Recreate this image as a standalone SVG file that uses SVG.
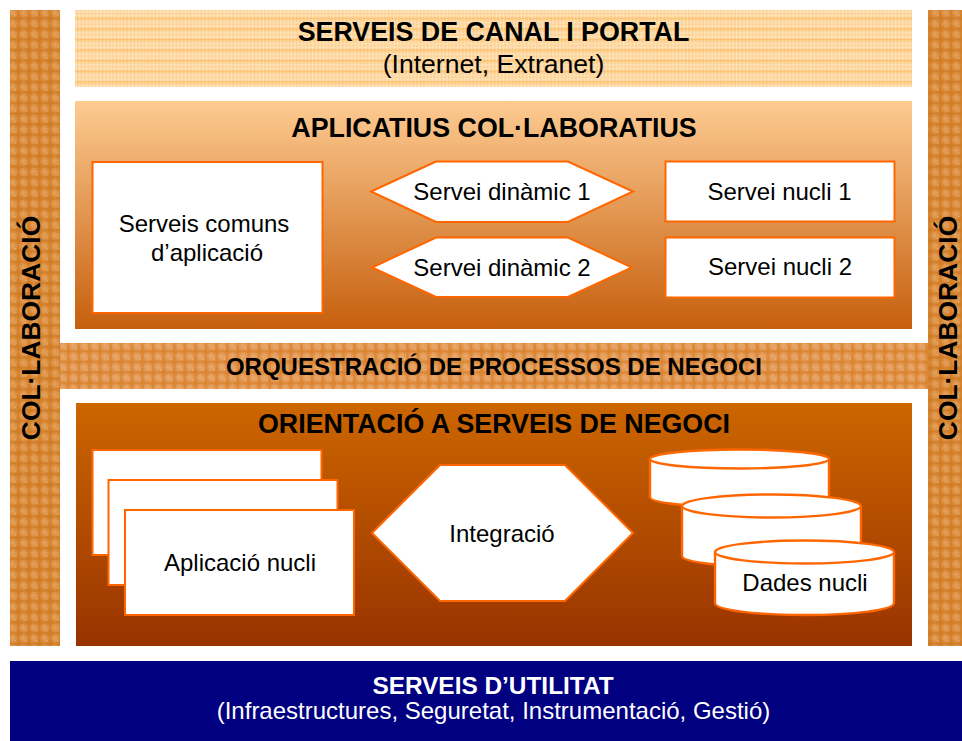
<svg xmlns="http://www.w3.org/2000/svg" width="962" height="741" viewBox="0 0 962 741">
<defs>
<pattern id="pL" width="10.600" height="10.600" patternUnits="userSpaceOnUse" x="75" y="10">
<rect width="10.600" height="10.600" fill="#fdd08f"/>
<path d="M1 0V10.600M4.500 0V10.600M8 0V10.600" stroke="#fff" stroke-width="1" opacity=".4"/>
<path d="M0 2H10.600M0 5.500H10.600" stroke="#fff" stroke-width="1" opacity=".4"/>
<path d="M0 8.500H10.600" stroke="#f8b04a" stroke-width="1" opacity=".75"/>
</pattern>
<pattern id="pD" width="10.600" height="10.600" patternUnits="userSpaceOnUse" x="10" y="10">
<rect width="10.600" height="10.600" fill="#d98836"/>
<rect x="1" width="3.500" height="10.600" fill="#e7aa6c" opacity=".4"/>
<rect y="1" width="10.600" height="3.500" fill="#e7aa6c" opacity=".35"/>
<rect x="7" width="2.500" height="10.600" fill="#cf7a22" opacity=".7"/>
<rect y="7" width="10.600" height="2.500" fill="#cf7a22" opacity=".7"/>
<rect x="5" y="5" width="1" height="1" fill="#f3d2a6"/>
</pattern>
<pattern id="pM" width="10.600" height="10.600" patternUnits="userSpaceOnUse" x="60" y="343">
<rect width="10.600" height="10.600" fill="#e0934a"/>
<rect x="1" width="3.500" height="10.600" fill="#eeb07a" opacity=".4"/>
<rect y="1" width="10.600" height="3.500" fill="#eeb07a" opacity=".35"/>
<rect x="7" width="2.500" height="10.600" fill="#d9802c" opacity=".7"/>
<rect y="7" width="10.600" height="2.500" fill="#d9802c" opacity=".7"/>
<rect x="5" y="5" width="1" height="1" fill="#f8e0c4"/>
</pattern>
<linearGradient id="g1" x1="0" y1="0" x2="0" y2="1"><stop offset="0" stop-color="#fdcb92"/><stop offset="1" stop-color="#c65f0d"/></linearGradient>
<linearGradient id="g2" x1="0" y1="0" x2="0" y2="1"><stop offset="0" stop-color="#cc6600"/><stop offset="1" stop-color="#993300"/></linearGradient>
<style>
text{font-family:"Liberation Sans",Arial,sans-serif;text-anchor:middle;fill:#000}
.h{font-weight:bold;font-size:26.800px}
.s{font-size:24px}
.n{fill:#fff;stroke:#ff6600;stroke-width:2;stroke-linejoin:miter}
.c{fill:#fff;stroke:#ff6600;stroke-width:2.400}
</style>
</defs>
<rect width="962" height="741" fill="#fff"/>
<g id="colab-left"><rect x="10" y="10" width="50" height="636" fill="url(#pD)"/>
<text class="h" style="font-size:26.400px" transform="translate(40 328) rotate(-90)">COL·LABORACIÓ</text></g>
<g id="colab-right"><rect x="928" y="10" width="34" height="636" fill="url(#pD)"/>
<text class="h" style="font-size:26.400px" transform="translate(957 328) rotate(-90)">COL·LABORACIÓ</text></g>
<g id="canal"><rect x="75" y="10" width="837" height="77" fill="url(#pL)"/>
<text class="h" x="493.500" y="41">SERVEIS DE CANAL I PORTAL</text>
<text x="493.500" y="73" style="font-size:26.600px">(Internet, Extranet)</text></g>
<g id="aplicatius"><rect x="75" y="101" width="837" height="228" fill="url(#g1)"/>
<text class="h" x="494" y="137">APLICATIUS COL·LABORATIUS</text></g>
<g id="comuns"><rect class="n" x="92.500" y="162" width="230" height="151"/>
<text class="s" x="204" y="232">Serveis comuns</text><text class="s" x="207" y="261">d’aplicació</text></g>
<g id="dinamic1"><polygon class="n" points="371,191.500 436,161.500 568,161.500 633,191.500 568,222 436,222"/>
<text class="s" x="502" y="200">Servei dinàmic 1</text></g>
<g id="dinamic2"><polygon class="n" points="372,267.500 436,237.500 568,237.500 632,267.500 568,297 436,297"/>
<text class="s" x="502" y="276">Servei dinàmic 2</text></g>
<g id="nucli1"><rect class="n" x="665.500" y="161.500" width="229" height="60"/>
<text class="s" x="779.500" y="200">Servei nucli 1</text></g>
<g id="nucli2"><rect class="n" x="665.500" y="237.500" width="229" height="60"/>
<text class="s" x="780" y="275">Servei nucli 2</text></g>
<g id="orquestracio"><rect x="60" y="343" width="868" height="46" fill="url(#pM)"/>
<text x="494" y="375" style="font-weight:bold;font-size:24px;fill:#000">ORQUESTRACIÓ DE PROCESSOS DE NEGOCI</text></g>
<g id="orientacio"><rect x="76" y="403" width="836" height="243" fill="url(#g2)"/>
<text class="h" x="494" y="433">ORIENTACIÓ A SERVEIS DE NEGOCI</text></g>
<g id="aplicacio"><rect class="n" x="92.500" y="450" width="229" height="105"/>
<rect class="n" x="108.500" y="480" width="229" height="105"/>
<rect class="n" x="125" y="510" width="229" height="105"/>
<text class="s" x="240" y="571">Aplicació nucli</text></g>
<g id="integracio"><polygon class="n" points="372,533 440,465 565,465 633,533 565,601 440,601"/>
<text class="s" x="502" y="542">Integració</text></g>
<g id="dades">
<path class="c" d="M650 459V497C650 503 690 507 739.500 507S829 503 829 497V459"/><ellipse class="c" cx="739.500" cy="459" rx="89.500" ry="9.500"/>
<path class="c" d="M682 506V556C682 562 722 567 771.500 567S861 562 861 556V506"/><ellipse class="c" cx="771.500" cy="506" rx="89.500" ry="11.500"/>
<path class="c" d="M715 552V603C715 610 755 615 804.500 615S894 610 894 603V552"/><ellipse class="c" cx="804.500" cy="552" rx="89.500" ry="11.500"/>
<text class="s" x="805" y="591">Dades nucli</text></g>
<g id="utilitat"><rect x="10" y="661" width="952" height="80" fill="#000080"/>
<text x="493" y="694" style="font-weight:bold;font-size:24.400px;fill:#fff">SERVEIS D’UTILITAT</text>
<text x="493.500" y="719" style="font-size:24px;fill:#fff">(Infraestructures, Seguretat, Instrumentació, Gestió)</text></g>
<g id="connectors"></g>
</svg>
